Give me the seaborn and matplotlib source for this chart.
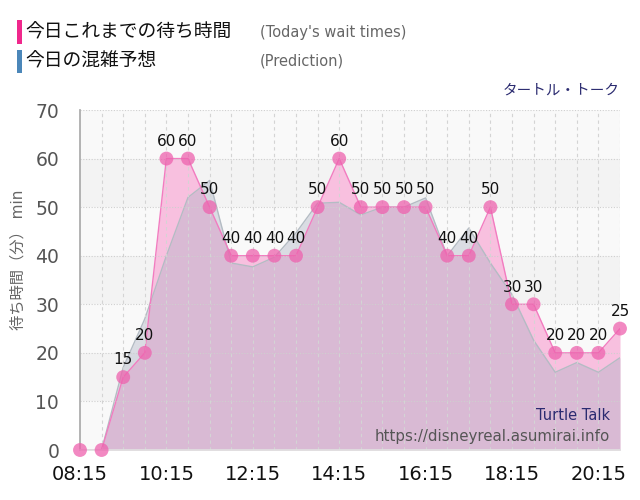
import numpy as np
import pandas as pd
import matplotlib
matplotlib.use("Agg")
import matplotlib.pyplot as plt
from matplotlib.patches import Rectangle
import seaborn as sns

# 今日これまでの待ち時間 (30分ごと)
times = ["08:15", "08:45", "09:15", "09:45", "10:15", "10:45", "11:15", "11:45",
         "12:15", "12:45", "13:15", "13:45", "14:15", "14:45", "15:15", "15:45",
         "16:15", "16:45", "17:15", "17:45", "18:15", "18:45", "19:15", "19:45",
         "20:15", "20:45"]
wait = [0, 0, 15, 20, 60, 60, 50, 40, 40, 40, 40, 50, 60, 50, 50, 50,
        50, 40, 40, 50, 30, 30, 20, 20, 20, 25]

# 今日の混雑予想
pred_times = times[1:]
pred = [0, 17, 27, 40, 52, 55.5, 38.5, 37.7, 39.7, 44.7, 50.8, 51, 48.4, 50, 50,
        51.9, 40, 45.7, 38.5, 32, 22.6, 16, 18, 16, 19]

tick_labels = ["08:15", "10:15", "12:15", "14:15", "16:15", "18:15", "20:15"]
y_ticks = [0, 10, 20, 30, 40, 50, 60, 70]


def to_hours(s):
    h, m = s.split(":")
    return int(h) + int(m) / 60


df = pd.DataFrame({"t": [to_hours(s) for s in times], "wait": wait})
dp = pd.DataFrame({"t": [to_hours(s) for s in pred_times], "pred": pred})

sns.set_theme(style="white")
plt.rcParams["font.family"] = ["DejaVu Sans", "Noto Sans CJK JP"]

fig = plt.figure(figsize=(6.4, 5), dpi=100)
ax = fig.add_axes([80 / 640, 1 - 450 / 500, 540 / 640, 340 / 500])

# 背景の帯
for i, lo in enumerate(range(0, 70, 10)):
    ax.axhspan(lo, lo + 10, color="#f9f9f9" if i % 2 == 0 else "#f3f3f3", zorder=0, lw=0)

ax.fill_between(df["t"], 0, df["wait"], color="#f8c0df", lw=0, zorder=1)
ax.fill_between(dp["t"], 0, dp["pred"], color="#acb2c4", alpha=0.4, lw=0, zorder=1.5)
sns.lineplot(data=dp, x="t", y="pred", ax=ax, color="#b4bcc4", lw=1, zorder=1.6)
sns.lineplot(data=df, x="t", y="wait", ax=ax, color="#f27cc0", lw=1, zorder=2)
sns.scatterplot(data=df, x="t", y="wait", ax=ax, s=100, color="#ee62ae", alpha=0.75,
                edgecolor="none", zorder=3, clip_on=False)

for t, v in zip(df["t"], df["wait"]):
    if v > 0:
        ax.annotate(str(v), (t, v), xytext=(0, 7), textcoords="offset points",
                    ha="center", va="bottom", fontsize=11, color="#111111", zorder=4)

ax.set_xlim(to_hours("08:15"), to_hours("20:45"))
ax.set_ylim(0, 70)

# グリッド
for t in df["t"][1:]:
    ax.axvline(t, color="#d4d4d4", lw=0.8, ls=(0, (3, 3)), zorder=2.5)
for y in y_ticks[1:]:
    ax.axhline(y, color="#cfcfcf", lw=0.8, ls=(0, (1, 1.5)), zorder=2.5)

ax.set_xticks([to_hours(s) for s in tick_labels])
ax.set_xticklabels(tick_labels)
ax.set_yticks(y_ticks)
ax.tick_params(axis="x", length=10, width=1, color="#dddddd", pad=1,
               labelsize=14, labelcolor="#111111")
ax.tick_params(axis="y", length=12, width=1, color="#dddddd", pad=3,
               labelsize=13.5, labelcolor="#555555")
ax.set_xlabel("")
ax.set_ylabel("")
for side in ["top", "right"]:
    ax.spines[side].set_visible(False)
ax.spines["left"].set_color("#aaaaaa")
ax.spines["bottom"].set_color("#e0e0e0")

fig.text(18 / 640, 1 - 260 / 500, "待ち時間（分） min", rotation=90, ha="center",
         va="center", fontsize=11, color="#666666")

# 凡例
fig.add_artist(Rectangle((17 / 640, 1 - 44 / 500), 5 / 640, 24 / 500,
                         transform=fig.transFigure, color="#f0288c", lw=0))
fig.add_artist(Rectangle((17 / 640, 1 - 73 / 500), 5 / 640, 23 / 500,
                         transform=fig.transFigure, color="#4b87b9", lw=0))
fig.text(25 / 640, 1 - 32 / 500, "今日これまでの待ち時間", ha="left", va="center",
         fontsize=13.5, color="#111111")
fig.text(25 / 640, 1 - 61 / 500, "今日の混雑予想", ha="left", va="center",
         fontsize=13.5, color="#111111")
fig.text(260 / 640, 1 - 32 / 500, "(Today's wait times)", ha="left", va="center",
         fontsize=10.5, color="#666666")
fig.text(260 / 640, 1 - 61 / 500, "(Prediction)", ha="left", va="center",
         fontsize=10.5, color="#666666")

fig.text(620 / 640, 1 - 90 / 500, "タートル・トーク", ha="right", va="center",
         fontsize=10.5, color="#2b2b70")
fig.text(610 / 640, 1 - 415 / 500, "Turtle Talk", ha="right", va="center",
         fontsize=10.5, color="#2b2b70", zorder=5)
fig.text(610 / 640, 1 - 436 / 500, "https://disneyreal.asumirai.info", ha="right",
         va="center", fontsize=10.8, color="#555555", zorder=5)

fig.savefig("out.png", dpi=100)
